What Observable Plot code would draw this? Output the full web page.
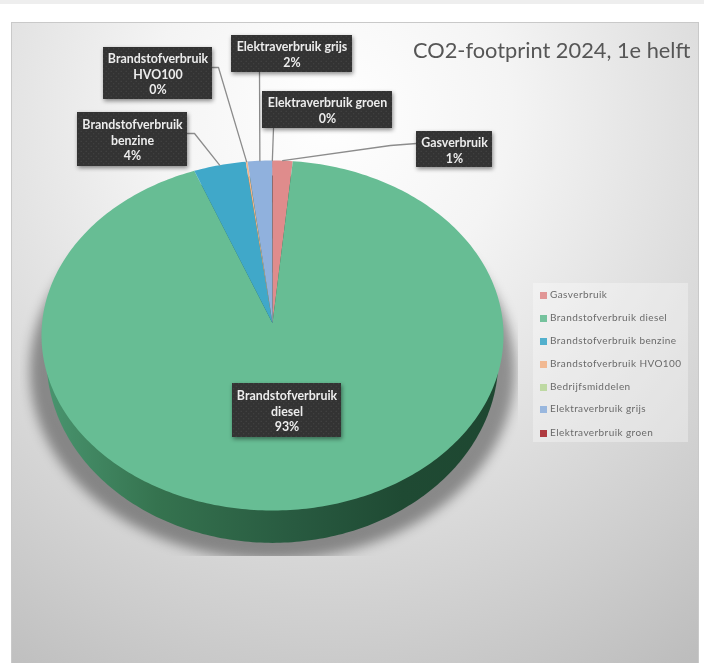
<!DOCTYPE html>
<html lang="nl">
<head>
<meta charset="utf-8">
<script src="https://cdn.jsdelivr.net/npm/d3@7"></script>
<script src="https://cdn.jsdelivr.net/npm/@observablehq/plot@0.6"></script>
<style>
  html, body { margin: 0; padding: 0; background: #fff; overflow: hidden; }
  #stage { position: relative; width: 704px; height: 663px; overflow: hidden; filter: blur(0.6px); }
  #strip { position: absolute; left: 0; top: 0; width: 704px; height: 4px; background: #eeeeee; }
  #frame { position: absolute; left: 11px; top: 22px; width: 688px; height: 650px; box-sizing: border-box;
    border: 1px solid #c9c9c9;
    background: radial-gradient(ellipse 640px 660px at 320px 90px, #ffffff 0%, #f4f4f4 28%, #dedede 58%, #cdcdcd 80%, #bdbdbd 100%); }
  #chart { position: absolute; left: 0; top: 0; }
  #chart svg { background: transparent; display: block; }
  #title { position: absolute; left: 413px; top: 36px; font: 21.8px Lato, sans-serif; color: #565656; white-space: nowrap; }
  #legend { position: absolute; left: 533px; top: 283px; width: 155px; height: 159px; background: rgba(255,255,255,.32); }
  .item { position: absolute; left: 7px; font: 10px Lato, sans-serif; letter-spacing: .42px; color: #6a6a6a; white-space: nowrap; line-height: 12px; }
  .item i { display: inline-block; width: 7px; height: 7px; margin-right: 3px; vertical-align: -0.5px; }
</style>
</head>
<body>
<div id="stage">
  <div id="strip"></div>
  <div id="frame"></div>
  <div id="chart"></div>
  <div id="title">CO2-footprint 2024, 1e helft</div>
  <div id="legend"></div>
</div>
<script>
// ---- data ----
const categories = ["Gasverbruik", "Brandstofverbruik diesel", "Brandstofverbruik benzine", "Brandstofverbruik HVO100", "Bedrijfsmiddelen", "Elektraverbruik grijs", "Elektraverbruik groen"];
const shares = [1.4, 93.1, 3.65, 0.12, 0.01, 1.7, 0.02];
const colors = ["#df8c8c", "#67bd94", "#40a8c9", "#f2b48a", "#b9d79b", "#90b1dd", "#a8272d"];

// ---- data labels: text, and the box each one sits in (layout, in pixels) ----
const labelNames = ["Gasverbruik", "Brandstofverbruik diesel", "Brandstofverbruik benzine", "Brandstofverbruik HVO100", "Elektraverbruik grijs", "Elektraverbruik groen"];
const labelTexts = ["Gasverbruik\n1%", "Brandstofverbruik\ndiesel\n93%", "Brandstofverbruik\nbenzine\n4%", "Brandstofverbruik\nHVO100\n0%", "Elektraverbruik grijs\n2%", "Elektraverbruik groen\n0%"];
const labelBoxes = [[416, 131, 492, 167], [232, 383, 341, 437], [77, 112, 187, 166], [103, 47, 212, 99], [231, 35, 352, 72], [262, 91, 392, 128]];
const leaderStarts = [[[416, 143], [390, 145]], null, [[187, 133], [194, 133]], [[212, 67], [218, 67]], [[259, 72]], [[273, 128]]];

// ---- geometry of the tilted disc (layout) ----
const W = 704, H = 663;
const left = 41, right = 503, top_ = 160, bottom = 510;
const apexY = 0.07;            // the perspective moves the centre point up on the face
const toX = p => (p - (left + right) / 2) / ((right - left) / 2);
const toY = p => ((top_ + bottom) / 2 - p) / ((bottom - top_) / 2);
const total = d3.sum(shares);
const TAU = 2 * Math.PI;

let cum = 0;
const slices = categories.map((name, i) => {
  const a0 = cum / total * TAU; cum += shares[i]; const a1 = cum / total * TAU;
  return {name, a0, a1};
});
const rim = a => ({x: Math.sin(a), y: Math.cos(a)});
const facePoints = slices.flatMap(s => {
  const n = Math.max(2, Math.ceil((s.a1 - s.a0) / TAU * 360));
  return [{name: s.name, x: 0, y: apexY},
    ...d3.range(n + 1).map(k => ({name: s.name, ...rim(s.a0 + (s.a1 - s.a0) * k / n)}))];
});
const disc = (sx, sy, oy) => d3.range(361).map(k => {
  const a = k / 360 * TAU;
  return {x: Math.sin(a) * sx, y: Math.cos(a) * sy + oy};
});
const wallEllipse = disc(0.978, 1.05, -0.135);
const shadowEllipse = disc(1.05, 1.08, -0.2);

// leader lines end on the rim of their slice
const sliceOf = name => slices.find(s => s.name === name);
const leaders = labelNames.flatMap((name, i) => {
  if (!leaderStarts[i]) return [];
  const s = sliceOf(name), end = rim((s.a0 + s.a1) / 2);
  const pts = leaderStarts[i].map(([x, y]) => ({name, x: toX(x), y: toY(y)}));
  return [...pts, {name, x: end.x, y: end.y}];
});
const boxes = labelNames.map((name, i) => {
  const [x1, y1, x2, y2] = labelBoxes[i];
  return {x1: toX(x1), y1: toY(y1), x2: toX(x2), y2: toY(y2), cx: toX((x1 + x2) / 2), cy: toY((y1 + y2) / 2), text: labelTexts[i]};
});

function defs() {
  const g = document.createElementNS("http://www.w3.org/2000/svg", "g");
  g.innerHTML = `<defs>
    <pattern id="dots" width="5" height="5" patternUnits="userSpaceOnUse">
      <rect width="5" height="5" fill="#333333"/><circle cx="1.2" cy="1.2" r=".55" fill="#4c4c4c"/><circle cx="3.7" cy="3.7" r=".55" fill="#4c4c4c"/>
    </pattern>
    <linearGradient id="wall" gradientUnits="userSpaceOnUse" x1="41" y1="0" x2="503" y2="0">
      <stop offset="0" stop-color="#4a9670"/><stop offset=".25" stop-color="#35734f"/>
      <stop offset=".55" stop-color="#285a40"/><stop offset=".78" stop-color="#1f4a33"/><stop offset="1" stop-color="#1e4731"/>
    </linearGradient>
    <clipPath id="shadowClip"><rect x="20" y="250" width="498" height="306"/></clipPath>
  </defs>`;
  return g;
}
function clipShadow(index, scales, values, dimensions, context, next) {
  const inner = next(index, scales, values, dimensions, context);
  const g = document.createElementNS("http://www.w3.org/2000/svg", "g");
  g.setAttribute("clip-path", "url(#shadowClip)");
  g.appendChild(inner);
  return g;
}

const chart = Plot.plot({
  width: W, height: H,
  margin: 0,
  style: {background: "transparent"},
  x: {domain: [-1, 1], range: [left, right], axis: null},
  y: {domain: [-1, 1], range: [bottom, top_], axis: null},
  color: {domain: categories, range: colors},
  marks: [
    defs,
    Plot.line(shadowEllipse, {x: "x", y: "y", fill: "#000", fillOpacity: 0.38, stroke: "none", imageFilter: "blur(6px)", render: clipShadow}),
    Plot.line(wallEllipse, {x: "x", y: "y", fill: "url(#wall)", stroke: "none"}),
    Plot.line(facePoints, {x: "x", y: "y", z: "name", fill: "name", stroke: "none"}),
    Plot.line(leaders, {x: "x", y: "y", z: "name", stroke: "#8c8c8c", strokeWidth: 1.3}),
    Plot.rect(boxes, {x1: "x1", x2: "x2", y1: "y1", y2: "y2", fill: "url(#dots)", imageFilter: "drop-shadow(1px 2px 2px rgba(0,0,0,.45))"}),
    Plot.text(boxes, {x: "cx", y: "cy", text: "text", fill: "#ececec", fontFamily: "Lato, sans-serif", fontWeight: 700, fontSize: 12.4, lineHeight: 1.28, textAnchor: "middle"})
  ]
});
document.getElementById("chart").appendChild(chart);

const legendTops = [5, 28, 51, 74, 97, 119, 143];
const legend = document.getElementById("legend");
categories.forEach((name, i) => {
  const el = document.createElement("div");
  el.className = "item";
  el.style.top = legendTops[i] + "px";
  const sw = document.createElement("i");
  sw.style.background = colors[i];
  sw.style.opacity = 0.9;
  el.appendChild(sw);
  el.appendChild(document.createTextNode(name));
  legend.appendChild(el);
});
</script>
</body>
</html>
